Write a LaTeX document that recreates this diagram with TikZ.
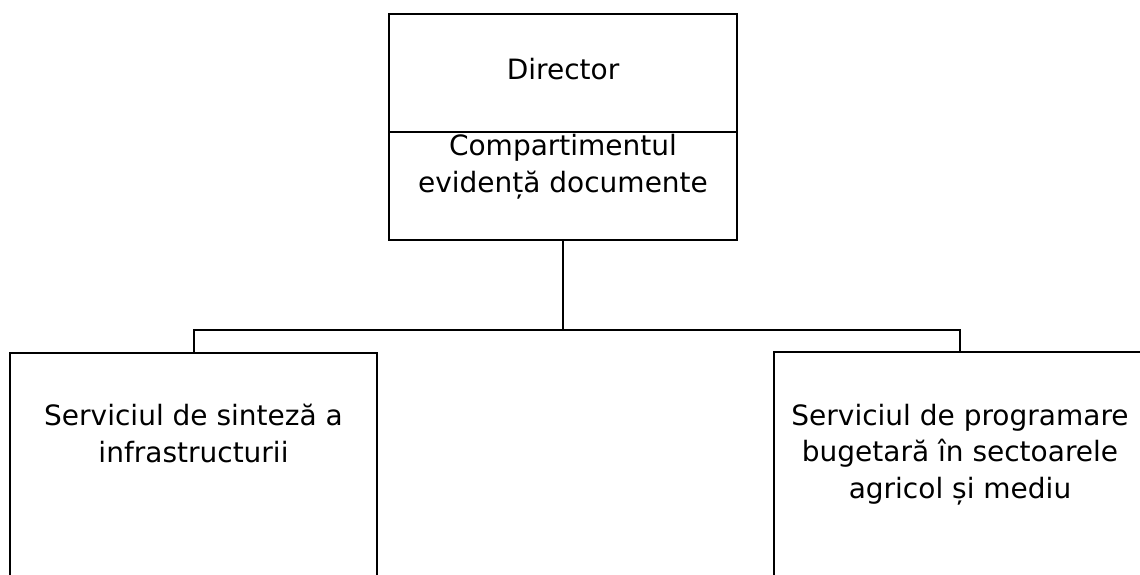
\documentclass[tikz,border=0pt]{standalone}
\usepackage{fontspec}
\setmainfont{DejaVu Sans}
\begin{document}
\begin{tikzpicture}[x=1pt,y=-1pt,
  box/.style={draw=black, line width=2pt, inner sep=0pt},
  lbl/.style={font=\fontsize{28}{36.5}\selectfont, align=center, inner sep=0pt, anchor=base},
  wire/.style={draw=black, line width=2pt}]
\clip (0,0) rectangle (1140,574);
\fill[white] (0,0) rectangle (1140,574);
\node[box, minimum width=348pt, minimum height=118pt] (dir) at (563,73) {};
\node[box, minimum width=348pt, minimum height=108pt] (comp) at (563,186) {};
\node[box, minimum width=367pt, minimum height=240pt] (s1) at (193.5,473) {};
\node[box, minimum width=372pt, minimum height=240pt] (s2) at (960,472) {};
\node[lbl] (tdir) at (563,79) {Director};
\node[lbl] (tcomp) at (563,192) {Compartimentul\\evidență documente};
\node[lbl] (ts1) at (193.5,462) {Serviciul de sinteză a\\infrastructurii};
\node[lbl] (ts2) at (960,498) {Serviciul de programare\\bugetară în sectoarele\\agricol și mediu};
\coordinate (bus) at (563,330);
\draw[wire] (comp.south) -- (bus);
\draw[wire] (s1.north) |- (bus) -| (s2.north);
\end{tikzpicture}
\end{document}
